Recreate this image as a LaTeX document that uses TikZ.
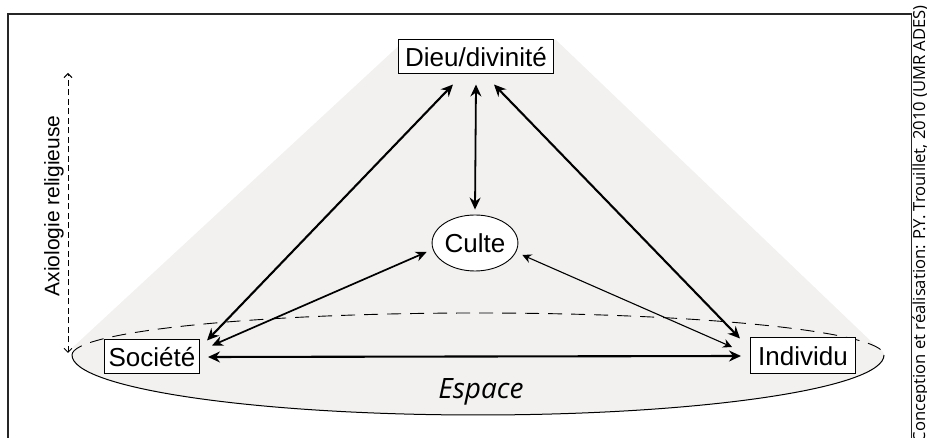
\documentclass[tikz,border=0pt]{standalone}
\usepackage{fontspec}
\setmainfont{Liberation Sans}
\newfontfamily\myriadfont{Open Sans}
\usetikzlibrary{arrows.meta,calc,shapes.geometric}
\definecolor{bggray}{RGB}{242,241,240}
\begin{document}
\begin{tikzpicture}[x=1pt,y=1pt,
  lbl/.style={draw,line width=1pt,inner sep=0pt,fill=white,font=\fontsize{26}{26}\selectfont},
  tip/.style={{Stealth[length=12pt,width=11pt,inset=4pt]}-{Stealth[length=12pt,width=11pt,inset=4pt]}},
  thickarrow/.style={tip,line width=2.1pt},
  medarrow/.style={{Stealth[length=11pt,width=10pt,inset=3.5pt]}-{Stealth[length=11pt,width=10pt,inset=3.5pt]},line width=1.7pt},
  thinarrow/.style={{Stealth[length=9pt,width=9pt,inset=3pt]}-{Stealth[length=9pt,width=9pt,inset=3pt]},line width=1.1pt},
  framel/.style={line width=1.8pt,black!85},
]
\useasboundingbox (0,0) rectangle (927,438);
\clip (0,0) rectangle (927,438);
% background cone and ellipse
\fill[bggray] (405,398) -- (556,398) -- (878,90) -- (72,90) -- cycle;
\fill[bggray] (72,83) arc[start angle=180,end angle=0,x radius=406,y radius=42]
  arc[start angle=0,end angle=-180,x radius=406,y radius=60] -- cycle;
\draw[line width=0.9pt,dash pattern=on 14pt off 9pt] (72,83) arc[start angle=180,end angle=0,x radius=406,y radius=42];
\draw[line width=1pt] (884,83) arc[start angle=0,end angle=-180,x radius=406,y radius=60];
% frame
\draw[framel] (8.3,0) -- (8.3,424.3) -- (911.7,424.3);
\draw[line width=1.3pt,black!85] (911.7,424.3) -- (911.7,0);
% nodes
\node[lbl,minimum width=155pt,minimum height=34pt] (dieu) at (476,381) {Dieu/divinité};
\node[lbl,minimum width=95pt,minimum height=34pt] (soc) at (152,81) {Société};
\node[lbl,minimum width=105pt,minimum height=36pt] (ind) at (803,82) {Individu};
\node[lbl,ellipse,line width=0.9pt,minimum width=83pt,minimum height=56pt] (culte) at (475,195) {Culte};
\node[anchor=base,inner sep=0pt,font=\myriadfont\itshape\fontsize{28}{28}\selectfont] (espace) at (481,39) {Espace};
\node[rotate=90,inner sep=0pt,font=\fontsize{21}{21}\selectfont] (axio) at (54,232) {Axiologie religieuse};
\coordinate (axtop) at (68,365);
\coordinate (axbot) at (68,85);
\draw[{Straight Barb[length=4pt,width=8pt]}-{Straight Barb[length=4pt,width=8pt]},line width=1pt,dash pattern=on 6pt off 3.5pt] (axbot) -- (axtop);
\node[rotate=90,anchor=base east,inner sep=0pt,font=\myriadfont\fontsize{16.6}{17}\selectfont] (credit) at (925,433) {Conception et réalisation: P.Y. Trouillet, 2010 (UMR ADES)};
% connectors
\draw[thickarrow] ($(dieu.south)+(-23,-10)$) -- ($(soc.north east)+(7,-1)$);
\draw[thickarrow] ($(dieu.south)+(18,-10)$) -- ($(ind.north west)+(-10,-1)$);
\draw[tip,line width=1.8pt] ($(dieu.south)+(0,-10)$) -- ($(culte.north)+(0,5)$);
\draw[thickarrow] ($(soc.east)+(8,0)$) -- ($(ind.west)+(-9,0)$);
\draw[medarrow] ($(culte.west)+(-5,-9)$) -- ($(soc.north east)+(12,-6)$);
\draw[thinarrow] ($(culte.east)+(4,-12)$) -- ($(ind.west)+(-18,9)$);
\end{tikzpicture}
\end{document}
